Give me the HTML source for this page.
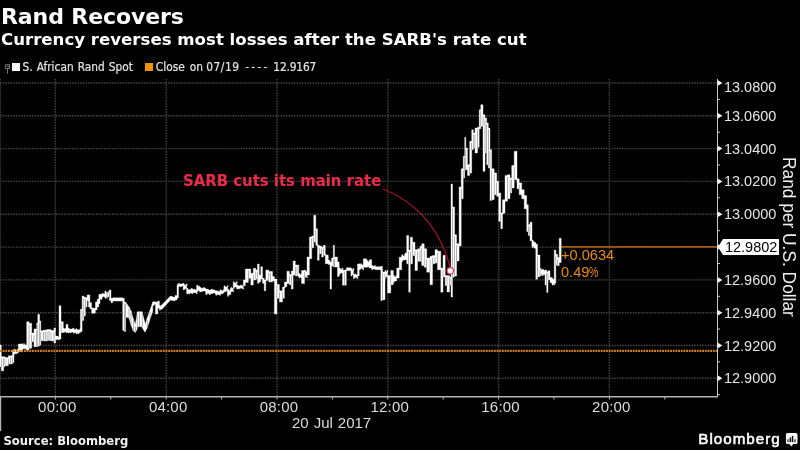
<!DOCTYPE html>
<html lang="en">
<head>
<meta charset="utf-8">
<title>Rand Recovers</title>
<style>
html,body{margin:0;padding:0;background:#000;}
body{width:800px;height:450px;position:relative;overflow:hidden;color:#fff;font-family:"Liberation Sans","DejaVu Sans",sans-serif;}
.abs{position:absolute;white-space:nowrap;line-height:1;}
#title{left:1px;top:4px;font:bold 22px/26px "DejaVu Sans","Liberation Sans",sans-serif;letter-spacing:-0.1px;}
#sub{left:1px;top:30px;font:bold 16.6px/20px "DejaVu Sans","Liberation Sans",sans-serif;}
.leg{top:60px;font:11.8px/14px "DejaVu Sans Condensed","Liberation Sans",sans-serif;color:#e2e2e2;-webkit-text-stroke:0.2px #e2e2e2;}
.yl{position:absolute;left:723.5px;width:60px;font:15.3px/18px "Liberation Sans",sans-serif;color:#e6e6e6;white-space:nowrap;transform-origin:0 50%;transform:scaleX(0.946);}
.xl{position:absolute;top:398px;width:60px;text-align:center;font:15px/18px "Liberation Sans",sans-serif;letter-spacing:0.2px;color:#dcdcdc;white-space:nowrap;}
#date{left:292px;top:414px;font:15px/18px "Liberation Sans",sans-serif;color:#dcdcdc;word-spacing:0.8px;}
#src{left:3.5px;top:434.2px;font:bold 11.6px/14px "DejaVu Sans","Liberation Sans",sans-serif;color:#f2f2f2;}
#bb{left:698.3px;top:430px;font:15.2px/18px "Liberation Sans",sans-serif;color:#fff;letter-spacing:1px;-webkit-text-stroke:0.55px #fff;}
#ann{left:183.2px;top:171.8px;font:bold 15.5px/18px "DejaVu Sans","Liberation Sans",sans-serif;color:#ee2a4a;transform-origin:0 50%;transform:scaleX(0.961);}
#chg{left:561px;top:247.1px;font:14.6px/16.5px "Liberation Sans",sans-serif;color:#e8890f;}
#chg i{font-style:normal;display:inline-block;transform-origin:0 50%;transform:scaleX(0.72);}
#last{left:723px;top:239px;width:56px;height:16px;background:#fff;color:#000;font:15.3px/16.5px "Liberation Sans",sans-serif;}
#last span{display:inline-block;margin-left:1.5px;transform-origin:0 50%;transform:scaleX(0.946);}
#ytitle{left:799px;top:157px;transform-origin:0 0;transform:rotate(90deg) scaleX(0.932);font:18.6px/20px "Liberation Sans",sans-serif;color:#f0f0f0;}
svg{position:absolute;left:0;top:0;}
#txt{position:absolute;left:0;top:0;width:800px;height:450px;will-change:transform;}
</style>
</head>
<body>
<svg width="800" height="450" viewBox="0 0 800 450">
<g stroke="#424242" stroke-width="1.4" stroke-dasharray="1.6 1.07" fill="none"><line x1="0" y1="378.3" x2="717" y2="378.3"/><line x1="0" y1="345.5" x2="717" y2="345.5"/><line x1="0" y1="312.7" x2="717" y2="312.7"/><line x1="0" y1="279.9" x2="717" y2="279.9"/><line x1="0" y1="247.1" x2="717" y2="247.1"/><line x1="0" y1="214.3" x2="717" y2="214.3"/><line x1="0" y1="181.4" x2="717" y2="181.4"/><line x1="0" y1="148.6" x2="717" y2="148.6"/><line x1="0" y1="115.8" x2="717" y2="115.8"/><line x1="0" y1="83.0" x2="717" y2="83.0"/><line x1="0.2" y1="79" x2="0.2" y2="396"/><line x1="55.4" y1="79" x2="55.4" y2="396"/><line x1="166.2" y1="79" x2="166.2" y2="396"/><line x1="277.0" y1="79" x2="277.0" y2="396"/><line x1="387.8" y1="79" x2="387.8" y2="396"/><line x1="498.6" y1="79" x2="498.6" y2="396"/><line x1="609.4" y1="79" x2="609.4" y2="396"/></g>
<line x1="560" y1="246.9" x2="718" y2="246.9" stroke="#a45c0c" stroke-width="1.6"/>
<path d="M0 345.0L1.3 345.0V366.7L0 366.7ZM1.3 356.7L3.7 356.7V370.8L1.3 370.8ZM3.7 356.7L5 356.7V366.7L3.7 366.7ZM5 357.5L8.3 357.5V365.8L5 365.8ZM8.3 355.8L12.5 355.8V364.0L8.3 364.0ZM12.5 350.0L14 350.0V362.5L12.5 362.5ZM14 350.0H18.3V353.0H14ZM14 349.0h1.1V354.0h-1.1ZM15.60 353.0h1.1V354.0h-1.1ZM17.75 349.0h1.1V350.0h-1.1ZM18.3 344.0L21.7 344.0V351.7L18.3 351.7ZM21.7 345.0H26.7V348.7H21.7ZM21.7 343.7h1.1V350.0h-1.1ZM23.65 343.7h1.1V345.0h-1.1ZM26.15 348.7h1.1V350.0h-1.1ZM26.7 321.7L29 321.7V350.0L26.7 350.0ZM29 323.3L31.7 323.3V348.3L29 348.3ZM31.7 333.0L34 333.0V341.7L31.7 341.7ZM34 329.0L36.7 329.0V346.7L34 346.7ZM36.7 323.0L37.8 323.0V346.7L36.7 346.7ZM37.8 314.2L39.6 314.2V346.0L37.8 346.0ZM39.6 321.0L40.8 321.0V345.0L39.6 345.0ZM40.8 330.8L43.3 330.8V340.8L40.8 340.8ZM43.3 330.0L47 330.0V341.0L43.3 341.0ZM47 329.5L51 329.5V340.5L47 340.5ZM51 330.5L54 330.5V341.0L51 341.0ZM54 328.0L55.5 328.0V343.0L54 343.0ZM55.5 336.8H59V339.2H55.5ZM55.5 336.0h1.1V340.0h-1.1ZM56.70 336.0h1.1V336.8h-1.1ZM58.45 339.2h1.1V340.0h-1.1ZM59 305.8L61 305.8V339.0L59 339.0ZM61 321.7L63.3 321.7V332.5L61 332.5ZM63.3 329.1H66V331.7H63.3ZM63.3 328.3h1.1V332.5h-1.1ZM65.45 328.3h1.1V329.1h-1.1ZM66 324.5L68 324.5V332.5L66 332.5ZM68 329.0H73.3V332.0H68ZM68 328.0h1.1V333.0h-1.1ZM70.10 332.0h1.1V333.0h-1.1ZM72.75 328.0h1.1V329.0h-1.1ZM73.3 329.9H76V332.4H73.3ZM73.3 329.0h1.1V333.3h-1.1ZM75.45 329.0h1.1V329.9h-1.1ZM76 329.8H80.4V332.8H76ZM76 328.8h1.1V333.8h-1.1ZM77.65 332.8h1.1V333.8h-1.1ZM79.85 328.8h1.1V329.8h-1.1ZM80.4 309.3L82.1 309.3V331.6L80.4 331.6ZM82.1 296.0L83.8 296.0V320.4L82.1 320.4ZM83.8 297.0L85.4 297.0V316.0L83.8 316.0ZM85.4 297.7L87.1 297.7V307.0L85.4 307.0ZM87.1 294.9L88.5 294.9V300.4L87.1 300.4ZM88.5 294.9L89.9 294.9V307.0L88.5 307.0ZM89.9 302.7L91.6 302.7V308.8L89.9 308.8ZM91.6 308.0L95.4 308.2V313.2L91.6 313.2ZM95.4 302.0L97.1 302.0V309.9L95.4 309.9ZM97.1 299.3L98.8 299.3V307.0L97.1 307.0ZM98.8 294.3L100 294.3V303.7L98.8 303.7ZM100 294.3L102.1 294.3V299.3L100 299.3ZM102.1 294.0H104.9V296.2H102.1ZM102.1 293.2h1.1V297.0h-1.1ZM104.35 296.2h1.1V297.0h-1.1ZM104.9 292.4H109.3V296.8H104.9ZM104.9 291.0h1.1V298.2h-1.1ZM106.55 296.8h1.1V298.2h-1.1ZM108.75 291.0h1.1V292.4h-1.1ZM109.3 289.9L111 289.9V300.4L109.3 300.4ZM111 298.2L112.7 298.2V302.7L111 302.7ZM112.7 297.8L122.7 297.8V301.0L112.7 301.0ZM122.7 298.2L124.3 298.2V330.4L122.7 330.4ZM124.3 302.0L125.6 302.0V331.6L124.3 331.6ZM125.6 302.0L129 307.0V318.0L125.6 317.0ZM129 307.0L131 311.0V325.0L129 318.0ZM131 311.0L133.3 319.0V331.0L131 325.0ZM133.3 319.0L135.5 325.0V332.5L133.3 331.0ZM135.5 323.0L137.2 314.0V329.0L135.5 332.5ZM137.2 311.7L142.2 311.7V326.7L137.2 326.7ZM142.2 312.0L145 323.0V332.0L142.2 328.0ZM145 325.0L147.2 318.0V328.0L145 332.0ZM147.2 318.0L152.8 302.0V311.0L147.2 328.0ZM152.8 301.7L155.5 301.7V304.0L152.8 306.0ZM155.5 302.0L157.8 302.0V314.0L155.5 314.0ZM157.8 301.0L159.4 301.0V308.0L157.8 308.0ZM159.4 306.4H161.7V309.1H159.4ZM159.4 305.5h1.1V310.0h-1.1ZM161.15 305.5h1.1V306.4h-1.1ZM161.7 305.0L170.5 296.0V300.0L161.7 309.5ZM170.5 296.0L175 297.5V301.0L170.5 300.0ZM175 295.5L177 295.5V300.0L175 300.0ZM177 284.5L178.5 284.5V298.0L177 298.0ZM178.5 284.0H183.3V286.0H178.5ZM178.5 283.3h1.1V286.7h-1.1ZM180.35 286.0h1.1V286.7h-1.1ZM182.75 283.3h1.1V284.0h-1.1ZM183.3 285.2H186.7V288.8H183.3ZM183.3 284.0h1.1V290.0h-1.1ZM186.15 284.0h1.1V285.2h-1.1ZM186.7 289.4H191.7V292.9H186.7ZM186.7 288.3h1.1V294.0h-1.1ZM188.65 292.9h1.1V294.0h-1.1ZM191.15 288.3h1.1V289.4h-1.1ZM191.7 289.9H196.7V292.8H191.7ZM191.7 289.0h1.1V293.7h-1.1ZM193.65 289.0h1.1V289.9h-1.1ZM196.15 292.8h1.1V293.7h-1.1ZM196.7 286.3H200V290.4H196.7ZM196.7 285.0h1.1V291.7h-1.1ZM199.45 290.4h1.1V291.7h-1.1ZM200 288.3H205.8V290.9H200ZM200 287.5h1.1V291.7h-1.1ZM201.38 290.9h1.1V291.7h-1.1ZM203.32 287.5h1.1V288.3h-1.1ZM205.25 290.9h1.1V291.7h-1.1ZM205.8 290.1H211.7V293.6H205.8ZM205.8 289.0h1.1V294.7h-1.1ZM207.22 289.0h1.1V290.1h-1.1ZM209.18 293.6h1.1V294.7h-1.1ZM211.15 289.0h1.1V290.1h-1.1ZM211.7 290.5H215.8V292.9H211.7ZM211.7 289.7h1.1V293.7h-1.1ZM213.20 289.7h1.1V290.5h-1.1ZM215.25 292.9h1.1V293.7h-1.1ZM215.8 291.7H220V294.4H215.8ZM215.8 290.8h1.1V295.3h-1.1ZM217.35 290.8h1.1V291.7h-1.1ZM219.45 294.4h1.1V295.3h-1.1ZM220 290.6H224V293.1H220ZM220 289.7h1.1V294.0h-1.1ZM221.45 293.1h1.1V294.0h-1.1ZM223.45 289.7h1.1V290.6h-1.1ZM224 287.0H227.5V290.5H224ZM224 285.8h1.1V291.7h-1.1ZM225.20 290.5h1.1V291.7h-1.1ZM226.95 285.8h1.1V287.0h-1.1ZM227.5 290.5H230.8V294.8H227.5ZM227.5 289.0h1.1V296.3h-1.1ZM230.25 289.0h1.1V290.5h-1.1ZM230.8 288.3H233.3V290.9H230.8ZM230.8 287.5h1.1V291.7h-1.1ZM232.75 290.9h1.1V291.7h-1.1ZM233.3 283.0H236.7V287.0H233.3ZM233.3 281.7h1.1V288.3h-1.1ZM236.15 281.7h1.1V283.0h-1.1ZM236.7 285.8H243.3V288.2H236.7ZM236.7 285.0h1.1V289.0h-1.1ZM238.35 288.2h1.1V289.0h-1.1ZM240.55 285.0h1.1V285.8h-1.1ZM242.75 288.2h1.1V289.0h-1.1ZM243.3 280.0L245.3 280.0V285.8L243.3 285.8ZM245.3 269.0L248.3 269.0V282.5L245.3 282.5ZM248.3 269.0L250.8 269.0V278.3L248.3 278.3ZM250.8 273.3L253.3 273.3V285.0L250.8 285.0ZM253.3 268.3L255.8 268.3V280.0L253.3 280.0ZM255.8 270.0L257.5 270.0V279.0L255.8 279.0ZM257.5 264.0L259.2 264.0V283.3L257.5 283.3ZM259.2 275.0L260.8 275.0V281.7L259.2 281.7ZM260.8 266.7L262.5 266.7V279.0L260.8 279.0ZM262.5 278.2L264.2 278.3V283.3L262.5 283.3ZM264.2 280.0L265.8 280.0V290.8L264.2 290.8ZM265.8 270.0L268.8 270.0V280.0L265.8 280.8ZM268.8 271.5L272.5 271.5V282.0L268.8 282.0ZM272.5 276.5L274.4 276.5V281.0L272.5 281.0ZM274.4 279.0L276.9 279.0V313.9L274.4 313.9ZM276.9 284.5L279.4 284.5V298.3L276.9 298.3ZM279.4 290.8L282.5 290.8V302.0L279.4 302.0ZM282.5 287.0L284.4 287.0V298.3L282.5 298.3ZM284.4 282.0L286.9 282.0V286.4L284.4 287.8ZM286.9 271.2L289.4 271.2V283.5L286.9 283.5ZM289.4 274.5L291.3 274.5V284.7L289.4 284.7ZM291.3 271.0L293.1 271.0V289.0L291.3 289.0ZM293.1 261.0L295.3 261.0V275.0L293.1 275.0ZM295.3 265.0L298.8 265.0V276.0L295.3 276.0ZM298.8 274.4H301.5V277.1H298.8ZM298.8 273.5h1.1V278.0h-1.1ZM300.95 277.1h1.1V278.0h-1.1ZM301.5 270.5L304.5 270.5V283.5L301.5 283.5ZM304.5 271.5H307V276.0H304.5ZM304.5 270.0h1.1V277.5h-1.1ZM306.45 276.0h1.1V277.5h-1.1ZM307 257.0L309.4 257.0V275.0L307 275.0ZM309.4 237.0L311.7 237.0V258.7L309.4 258.7ZM311.7 236.0L313.7 236.0V247.8L311.7 247.8ZM313.7 215.3L315.8 215.3V242.0L313.7 242.0ZM315.8 228.7L317.5 228.7V245.3L315.8 245.3ZM317.5 244.5L319.2 245.3V260.3L317.5 260.3ZM319.2 246.0L321.7 246.0V253.7L319.2 253.7ZM321.7 247.0L323.3 247.0V257.0L321.7 257.0ZM323.3 245.3L325.3 245.3V255.3L323.3 255.3ZM325.3 254.5L328.3 255.3V263.7L325.3 263.7ZM328.3 260.3L330 260.3V264.5L328.3 264.5ZM330 262.0L331.5 262.0V289.0L330 289.0ZM331.5 258.0L333.3 258.0V266.0L331.5 266.0ZM333.3 245.3L334.5 245.3V267.0L333.3 267.0ZM334.5 257.0L337.5 257.0V267.0L334.5 267.0ZM337.5 262.0L339.2 262.0V276.5L337.5 276.5ZM339.2 269.2H342.5V273.0H339.2ZM339.2 268.0h1.1V274.2h-1.1ZM341.95 268.0h1.1V269.2h-1.1ZM342.5 270.0L346.3 270.0V285.2L342.5 285.2ZM346.3 267.7L351 267.7V270.6L346.3 270.8ZM351 270.0H353.5V274.5H351ZM351 268.5h1.1V276.0h-1.1ZM352.95 268.5h1.1V270.0h-1.1ZM353.5 274.9H357.5V277.6H353.5ZM353.5 274.0h1.1V278.5h-1.1ZM354.95 274.0h1.1V274.9h-1.1ZM356.95 277.6h1.1V278.5h-1.1ZM357.5 264.0L359.2 264.0V276.0L357.5 276.0ZM359.2 265.0H363.3V268.5H359.2ZM359.2 263.8h1.1V269.7h-1.1ZM360.70 263.8h1.1V265.0h-1.1ZM362.75 268.5h1.1V269.7h-1.1ZM363.3 258.8L366.7 258.8V267.2L363.3 267.2ZM366.7 261.8H369.2V265.9H366.7ZM366.7 260.5h1.1V267.2h-1.1ZM368.65 265.9h1.1V267.2h-1.1ZM369.2 259.7L371.7 259.7V268.0L369.2 268.0ZM371.7 266.3H375V268.9H371.7ZM371.7 265.5h1.1V269.7h-1.1ZM374.45 265.5h1.1V266.3h-1.1ZM375 266.7L380.8 266.7V269.7L375 269.7ZM380.8 266.3L382.5 266.3V300.5L380.8 300.5ZM382.5 272.0L385 272.0V299.7L382.5 299.7ZM385 272.0H387.5V276.5H385ZM385 270.5h1.1V278.0h-1.1ZM386.95 270.5h1.1V272.0h-1.1ZM387.5 275.5L390.8 275.5V293.0L387.5 293.0ZM390.8 270.5L393.3 270.5V284.7L390.8 284.7ZM393.3 276.8H396.7V280.9H393.3ZM393.3 275.5h1.1V282.2h-1.1ZM396.15 275.5h1.1V276.8h-1.1ZM396.7 268.0L399.2 268.0V278.0L396.7 278.0ZM399.2 257.2L401.7 257.2V269.7L399.2 269.7ZM401.7 256.0H405V260.0H401.7ZM401.7 254.7h1.1V261.3h-1.1ZM404.45 254.7h1.1V256.0h-1.1ZM405 253.0L406.7 253.0V259.7L405 259.7ZM406.7 235.5L408.7 235.5V263.8L406.7 263.8ZM408.7 250.0L410.3 250.0V292.2L408.7 292.2ZM410.3 237.2L412.5 237.2V263.8L410.3 263.8ZM412.5 242.2L415 242.2V255.5L412.5 255.5ZM415 249.7L417.5 249.7V270.5L415 270.5ZM417.5 248.8L420 248.8V261.3L417.5 261.3ZM420 246.3L421.7 246.3V261.3L420 261.3ZM421.7 243.8L424.2 243.8V265.5L421.7 265.5ZM424.2 248.8L426.7 248.8V267.2L424.2 267.2ZM426.7 258.0L430 258.0V272.2L426.7 272.2ZM430 256.3L432.5 256.3V284.7L430 284.7ZM432.5 255.5L435 255.5V263.8L432.5 263.8ZM435 249.7L437.5 249.7V263.0L435 263.0ZM437.5 251.3L440.8 251.3V269.7L437.5 269.7ZM440.8 268.0L443 268.0V292.2L440.8 292.2ZM443 255.3L445.2 255.3V277.0L443 277.0ZM445.2 275.5L447 275.5V285.6L445.2 285.6ZM447 275.5L449.5 275.5V292.0L447 292.0ZM449.5 277.0L451 277.0V285.0L449.5 285.0ZM451 184.0L452.5 184.0V297.0L451 297.0ZM452.5 207.0L454.6 207.0V277.0L452.5 277.0ZM454.6 234.7L456.6 234.7V276.0L454.6 276.0ZM456.6 243.7L459.1 243.7V261.0L456.6 261.0ZM459.1 187.0L461.2 187.0V246.0L459.1 246.0ZM461.2 168.8L463.2 168.8V198.8L461.2 198.8ZM463.2 156.3L464.7 156.3V178.0L463.2 178.0ZM464.7 137.2L465.8 137.2V170.0L464.7 170.0ZM465.8 148.0L467.5 148.0V169.7L465.8 169.7ZM467.5 164.7L469.7 164.7V175.5L467.5 175.5ZM469.7 141.3L471.7 141.3V173.0L469.7 173.0ZM471.7 129.7L473.3 129.7V149.7L471.7 149.7ZM473.3 133.0L475 133.0V148.0L473.3 148.0ZM475 128.0L477.5 128.0V153.0L475 153.0ZM477.5 127.2L479.2 127.2V147.2L477.5 147.2ZM479.2 109.7L480.8 109.7V128.8L479.2 128.8ZM480.8 104.7L483 104.7V126.3L480.8 126.3ZM483 114.7L485 114.7V171.3L483 171.3ZM485 118.0L486.7 118.0V153.0L485 153.0ZM486.7 123.0L488.3 123.0V164.7L486.7 164.7ZM488.3 128.0L490 128.0V168.0L488.3 168.0ZM490 149.7L491.7 149.7V200.5L490 200.5ZM491.7 168.8L494.2 168.8V199.7L491.7 199.7ZM494.2 173.0L496.7 173.0V194.7L494.2 194.7ZM496.7 181.3L498.7 181.3V196.3L496.7 196.3ZM498.7 193.0L500.8 193.0V221.3L498.7 221.3ZM500.8 213.0L502.5 213.0V228.8L500.8 228.8ZM502.5 199.7L505 199.7V213.0L502.5 213.8ZM505 175.5L507.5 175.5V201.3L505 201.3ZM507.5 174.7L510 174.7V198.8L507.5 198.8ZM510 178.0L511.7 178.0V193.0L510 193.0ZM511.7 165.5L514.2 165.5V188.0L511.7 188.0ZM514.2 151.3L517 151.3V179.7L514.2 179.7ZM517 178.8L519.2 178.8V188.8L517 188.8ZM519.2 183.0L521.7 183.0V194.7L519.2 194.7ZM521.7 189.7L524.2 189.7V198.8L521.7 198.8ZM524.2 195.5L526.7 195.5V208.8L524.2 208.8ZM526.7 204.7L528.3 204.7V231.5L526.7 231.5ZM528.3 224.7L530 224.7V235.5L528.3 235.5ZM530 222.2L532 222.2V240.8L530 240.8ZM532 241.5H534.2V246.0H532ZM532 240.0h1.1V247.5h-1.1ZM533.65 246.0h1.1V247.5h-1.1ZM534.2 242.5L535.8 242.5V248.3L534.2 248.3ZM535.8 244.2L537.5 244.2V279.2L535.8 279.2ZM537.5 255.0L540 255.0V276.7L537.5 276.7ZM540 269.8H542.5V274.3H540ZM540 268.3h1.1V275.8h-1.1ZM541.95 274.3h1.1V275.8h-1.1ZM542.5 270.4H545V273.8H542.5ZM542.5 269.2h1.1V275.0h-1.1ZM544.45 273.8h1.1V275.0h-1.1ZM545 270.0L546.7 270.0V285.0L545 285.0ZM546.7 271.7L548 271.7V292.5L546.7 292.5ZM548 270.8L550 270.8V280.0L548 280.0ZM550 277.5L552 277.5V282.5L550 282.5ZM552 279.6H554.2V283.7H552ZM552 278.3h1.1V285.0h-1.1ZM553.65 283.7h1.1V285.0h-1.1ZM554.2 250.0L555.8 250.0V283.3L554.2 283.3ZM555.8 254.2L557.5 254.2V265.0L555.8 265.0ZM557.5 257.5L559.2 257.5V265.8L557.5 265.8ZM559.2 238.3L561.2 238.3V262.5L559.2 262.5Z" fill="#fff" stroke="#fff" stroke-width="0.35"/>
<path d="M10.10 357.3h0.6V364.0h-0.6ZM44.85 331.5h0.6V341.0h-0.6ZM48.70 331.0h0.6V340.5h-0.6ZM106.80 292.5h0.6V298.2h-0.6ZM139.40 313.2h0.6V326.7h-0.6ZM149.70 311.5h0.6V319.5h-0.6ZM270.35 273.0h0.6V282.0h-0.6ZM296.75 266.5h0.6V276.0h-0.6ZM344.10 271.5h0.6V285.2h-0.6ZM1.00 358.2h0.6V366.7h-0.6ZM3.40 358.2h0.6V366.7h-0.6ZM4.70 359.0h0.6V365.8h-0.6ZM8.00 359.0h0.6V364.0h-0.6ZM12.20 357.3h0.6V362.5h-0.6ZM28.70 324.8h0.6V348.3h-0.6ZM31.40 334.5h0.6V341.7h-0.6ZM33.70 334.5h0.6V341.7h-0.6ZM36.40 330.5h0.6V346.7h-0.6ZM37.50 324.5h0.6V346.0h-0.6ZM39.30 322.5h0.6V345.0h-0.6ZM40.50 332.3h0.6V340.8h-0.6ZM43.00 332.3h0.6V340.8h-0.6ZM46.70 331.5h0.6V340.5h-0.6ZM50.70 332.0h0.6V340.5h-0.6ZM53.70 332.0h0.6V341.0h-0.6ZM60.70 323.2h0.6V332.5h-0.6ZM81.80 310.8h0.6V320.4h-0.6ZM83.50 298.5h0.6V316.0h-0.6ZM85.10 299.2h0.6V307.0h-0.6ZM109.00 292.5h0.6V298.2h-0.6ZM124.00 303.5h0.6V330.4h-0.6ZM125.30 303.5h0.6V317.0h-0.6ZM128.70 308.5h0.6V318.0h-0.6ZM130.70 312.5h0.6V325.0h-0.6ZM133.00 320.5h0.6V331.0h-0.6ZM135.20 326.5h0.6V332.5h-0.6ZM136.90 315.5h0.6V326.7h-0.6ZM141.90 313.5h0.6V326.7h-0.6ZM146.90 319.5h0.6V328.0h-0.6ZM248.00 270.5h0.6V278.3h-0.6ZM253.00 274.8h0.6V280.0h-0.6ZM255.50 271.5h0.6V279.0h-0.6ZM257.20 271.5h0.6V279.0h-0.6ZM268.50 273.0h0.6V280.0h-0.6ZM276.60 286.0h0.6V298.3h-0.6ZM279.10 292.3h0.6V298.3h-0.6ZM282.20 292.3h0.6V298.3h-0.6ZM289.10 276.0h0.6V283.5h-0.6ZM291.00 276.0h0.6V284.7h-0.6ZM295.00 266.5h0.6V275.0h-0.6ZM304.20 272.0h0.6V277.5h-0.6ZM311.40 238.5h0.6V247.8h-0.6ZM313.40 237.5h0.6V242.0h-0.6ZM315.50 230.2h0.6V242.0h-0.6ZM318.90 247.5h0.6V253.7h-0.6ZM321.40 248.5h0.6V253.7h-0.6ZM323.00 248.5h0.6V255.3h-0.6ZM333.00 259.5h0.6V266.0h-0.6ZM334.20 258.5h0.6V267.0h-0.6ZM382.20 273.5h0.6V299.7h-0.6ZM384.70 273.5h0.6V278.0h-0.6ZM390.50 277.0h0.6V284.7h-0.6ZM408.40 251.5h0.6V263.8h-0.6ZM410.00 251.5h0.6V263.8h-0.6ZM412.20 243.7h0.6V255.5h-0.6ZM414.70 251.2h0.6V255.5h-0.6ZM417.20 251.2h0.6V261.3h-0.6ZM419.70 250.3h0.6V261.3h-0.6ZM421.40 247.8h0.6V261.3h-0.6ZM423.90 250.3h0.6V265.5h-0.6ZM426.40 259.5h0.6V267.2h-0.6ZM429.70 259.5h0.6V272.2h-0.6ZM432.20 257.8h0.6V263.8h-0.6ZM434.70 257.0h0.6V263.0h-0.6ZM437.20 252.8h0.6V263.0h-0.6ZM442.70 269.5h0.6V277.0h-0.6ZM446.70 277.0h0.6V285.6h-0.6ZM449.20 278.5h0.6V285.0h-0.6ZM450.70 278.5h0.6V285.0h-0.6ZM452.20 208.5h0.6V277.0h-0.6ZM454.30 236.2h0.6V276.0h-0.6ZM456.30 245.2h0.6V261.0h-0.6ZM460.90 188.5h0.6V198.8h-0.6ZM462.90 170.3h0.6V178.0h-0.6ZM464.40 157.8h0.6V170.0h-0.6ZM465.50 149.5h0.6V169.7h-0.6ZM469.40 166.2h0.6V173.0h-0.6ZM471.40 142.8h0.6V149.7h-0.6ZM473.00 134.5h0.6V148.0h-0.6ZM474.70 134.5h0.6V148.0h-0.6ZM477.20 129.5h0.6V147.2h-0.6ZM480.50 111.2h0.6V126.3h-0.6ZM482.70 116.2h0.6V126.3h-0.6ZM484.70 119.5h0.6V153.0h-0.6ZM486.40 124.5h0.6V153.0h-0.6ZM488.00 129.5h0.6V164.7h-0.6ZM489.70 151.2h0.6V168.0h-0.6ZM491.40 170.3h0.6V199.7h-0.6ZM493.90 174.5h0.6V194.7h-0.6ZM496.40 182.8h0.6V194.7h-0.6ZM500.50 214.5h0.6V221.3h-0.6ZM507.20 177.0h0.6V198.8h-0.6ZM509.70 179.5h0.6V193.0h-0.6ZM511.40 179.5h0.6V188.0h-0.6ZM513.90 167.0h0.6V179.7h-0.6ZM518.90 184.5h0.6V188.8h-0.6ZM528.00 226.2h0.6V231.5h-0.6ZM529.70 226.2h0.6V235.5h-0.6ZM537.20 256.5h0.6V276.7h-0.6ZM539.70 269.8h0.6V275.8h-0.6ZM546.40 273.2h0.6V285.0h-0.6ZM547.70 273.2h0.6V280.0h-0.6ZM555.50 255.7h0.6V265.0h-0.6ZM557.20 259.0h0.6V265.0h-0.6Z" fill="#000" fill-opacity="0.5"/>
<line x1="0" y1="350.9" x2="717" y2="350.9" stroke="#d6830c" stroke-width="2.1" stroke-dasharray="1.8 0.87"/>
<path d="M383 189 Q435 210 450 267" fill="none" stroke="#a3102c" stroke-width="1.3"/>
<circle cx="450.3" cy="270.8" r="3.2" fill="#fff" stroke="#ee405c" stroke-width="1.2"/>
<g stroke="#c8c8c8" stroke-width="1" fill="none">
<line x1="717.5" y1="79" x2="717.5" y2="397"/>
<line x1="717" y1="394.7" x2="720" y2="394.7"/><line x1="717" y1="361.9" x2="720" y2="361.9"/><line x1="717" y1="329.1" x2="720" y2="329.1"/><line x1="717" y1="296.3" x2="720" y2="296.3"/><line x1="717" y1="263.5" x2="720" y2="263.5"/><line x1="717" y1="230.7" x2="720" y2="230.7"/><line x1="717" y1="197.8" x2="720" y2="197.8"/><line x1="717" y1="165.0" x2="720" y2="165.0"/><line x1="717" y1="132.2" x2="720" y2="132.2"/><line x1="717" y1="99.4" x2="720" y2="99.4"/>
</g>
<g fill="#f0f0f0" stroke="none"><path d="M717.5 375.3 L722.5 378.3 L717.5 381.3 Z"/><path d="M717.5 342.5 L722.5 345.5 L717.5 348.5 Z"/><path d="M717.5 309.7 L722.5 312.7 L717.5 315.7 Z"/><path d="M717.5 276.9 L722.5 279.9 L717.5 282.9 Z"/><path d="M717.5 244.1 L722.5 247.1 L717.5 250.1 Z"/><path d="M717.5 211.3 L722.5 214.3 L717.5 217.3 Z"/><path d="M717.5 178.4 L722.5 181.4 L717.5 184.4 Z"/><path d="M717.5 145.6 L722.5 148.6 L717.5 151.6 Z"/><path d="M717.5 112.8 L722.5 115.8 L717.5 118.8 Z"/><path d="M717.5 80.0 L722.5 83.0 L717.5 86.0 Z"/></g>
<line x1="0" y1="396.8" x2="718" y2="396.8" stroke="#b4b4b4" stroke-width="1.6"/>
<g stroke="#b4b4b4" stroke-width="1"><line x1="55.4" y1="396" x2="55.4" y2="399.5"/><line x1="110.8" y1="396" x2="110.8" y2="399.5"/><line x1="166.2" y1="396" x2="166.2" y2="399.5"/><line x1="221.6" y1="396" x2="221.6" y2="399.5"/><line x1="277.0" y1="396" x2="277.0" y2="399.5"/><line x1="332.4" y1="396" x2="332.4" y2="399.5"/><line x1="387.8" y1="396" x2="387.8" y2="399.5"/><line x1="443.2" y1="396" x2="443.2" y2="399.5"/><line x1="498.6" y1="396" x2="498.6" y2="399.5"/><line x1="554.0" y1="396" x2="554.0" y2="399.5"/><line x1="609.4" y1="396" x2="609.4" y2="399.5"/><line x1="664.8" y1="396" x2="664.8" y2="399.5"/></g>
<line x1="0.5" y1="397" x2="0.5" y2="431" stroke="#b4b4b4" stroke-width="1.4"/>
<path d="M718 247 L723 239 L723 255 Z" fill="#fff"/>
<!-- legend icons -->
<rect x="5.6" y="64.7" width="4" height="3.8" fill="none" stroke="#858585" stroke-width="0.9"/>
<line x1="6.9" y1="66.5" x2="9.2" y2="66.5" stroke="#858585" stroke-width="0.8"/>
<line x1="7.5" y1="69" x2="7.5" y2="73.7" stroke="#858585" stroke-width="0.9"/>
<rect x="12" y="63" width="8" height="8" fill="#fff"/>
<rect x="145" y="63" width="8" height="8" fill="#f39200"/>
<!-- bloomberg icon -->
<path d="M787.4 432.9 h8.6 a1.5 1.5 0 0 1 1.5 1.5 v8.2 a1.5 1.5 0 0 1 -1.5 1.5 h-2.7 l-2 2.5 l-2 -2.5 h-1.9 a1.5 1.5 0 0 1 -1.5 -1.5 v-8.2 a1.5 1.5 0 0 1 1.5 -1.5 z" fill="#f4f4f4"/>
<g><rect x="787.2" y="439.3" width="1.5" height="2.8" fill="#555"/><rect x="789.6" y="437.5" width="1.5" height="4.6" fill="#111"/><rect x="791.8" y="435.9" width="1.5" height="6.2" fill="#111"/><rect x="794.2" y="439.3" width="1.6" height="2.8" fill="#555"/></g>
</svg>
<div id="txt">
<div id="title" class="abs">Rand Recovers</div>
<div id="sub" class="abs">Currency reverses most losses after the SARB's rate cut</div>
<div class="abs leg" style="left:22.5px;word-spacing:0.7px">S. African Rand Spot</div>
<div class="abs leg" style="left:155.8px">Close</div><div class="abs leg" style="left:189.8px">on</div><div class="abs leg" style="left:206.3px;letter-spacing:0.5px">07/19</div><div class="abs leg" style="left:245.2px;letter-spacing:2.3px">----</div><div class="abs leg" style="left:273.3px;letter-spacing:-0.15px">12.9167</div>
<div class="yl" style="top:369.3px">12.9000</div><div class="yl" style="top:336.5px">12.9200</div><div class="yl" style="top:303.7px">12.9400</div><div class="yl" style="top:270.9px">12.9600</div><div class="yl" style="top:205.3px">13.0000</div><div class="yl" style="top:172.4px">13.0200</div><div class="yl" style="top:139.6px">13.0400</div><div class="yl" style="top:106.8px">13.0600</div><div class="yl" style="top:78.3px">13.0800</div>
<div class="xl" style="left:27.4px">00:00</div><div class="xl" style="left:138.2px">04:00</div><div class="xl" style="left:249.0px">08:00</div><div class="xl" style="left:359.8px">12:00</div><div class="xl" style="left:470.6px">16:00</div><div class="xl" style="left:581.4px">20:00</div>
<div id="date" class="abs">20 Jul 2017</div>
<div id="src" class="abs">Source: Bloomberg</div>
<div id="bb" class="abs">Bloomberg</div>
<div id="ann" class="abs">SARB cuts its main rate</div>
<div id="chg" class="abs">+0.0634<br>0.49<i>%</i></div>
<div id="last" class="abs"><span>12.9802</span></div>
<div id="ytitle" class="abs">Rand per U.S. Dollar</div>
</div>
</body>
</html>
